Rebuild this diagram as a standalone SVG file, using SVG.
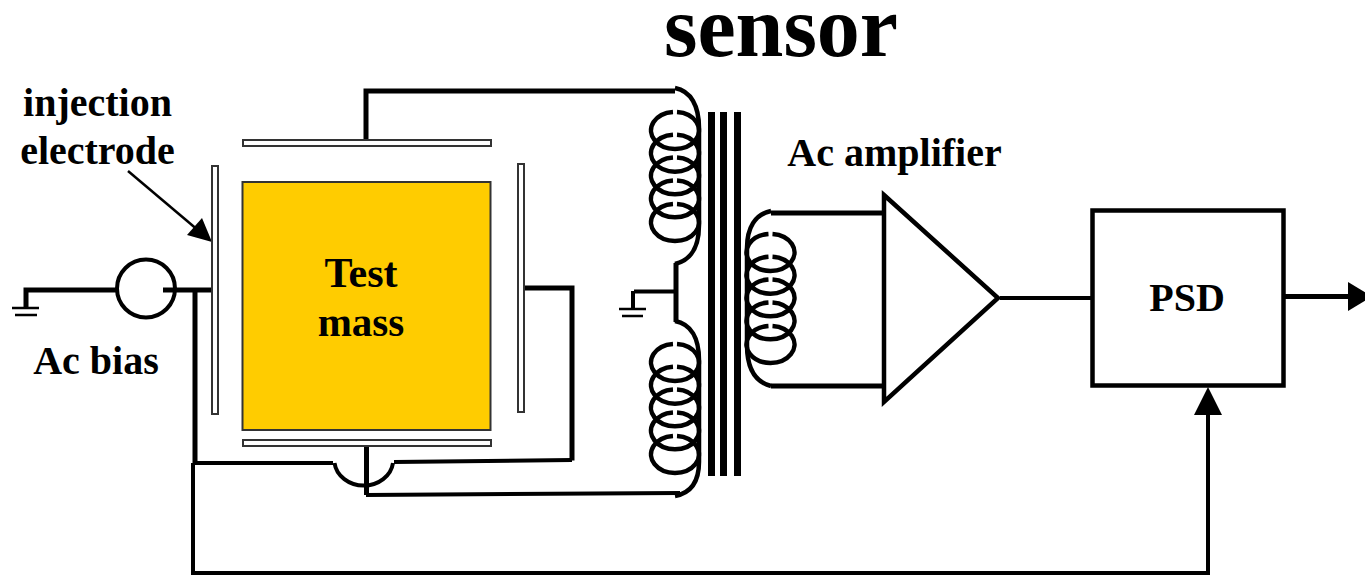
<svg xmlns="http://www.w3.org/2000/svg" width="1365" height="576" viewBox="0 0 1365 576">
<style>
.w{fill:none;stroke:#000;stroke-width:4}
.h{fill:none;stroke:#000;stroke-width:5}
.g{fill:none;stroke:#000;stroke-width:2.5}
.c{fill:none;stroke:#000;stroke-width:4.500}
.p{fill:#fff;stroke:#333;stroke-width:2}
.t{font-family:"Liberation Serif","Times New Roman",serif;font-weight:bold;fill:#000;font-size:40px;text-anchor:middle}
.b{fill:#000}
</style>
<defs>
<path id="coil" class="c" d="M1,-18.500A24,18.500 0 1,1 -3,-18.500"/>
<g id="turns">
<use href="#coil" y="0"/><use href="#coil" y="22.700"/><use href="#coil" y="45.400"/><use href="#coil" y="68.400"/><use href="#coil" y="92"/>
</g>
</defs>
<rect width="1365" height="576" fill="#fff"/>
<g id="connectors">
<path class="h" d="M26,307V290H118"/>
<path class="h" d="M163,290H212"/>
<path class="h" d="M195,290V463"/>
<path class="w" d="M193,463H333"/>
<path class="w" d="M334.500,463A29.500,26 0 0,0 393,463"/>
<path class="w" d="M394,462L572,460"/>
<path class="h" d="M572,460.500V288H524"/>
<path class="h" d="M366,140V91H675"/>
<path class="h" d="M366.500,446V495"/>
<path class="w" d="M366,495L680,493"/>
<path class="w" d="M634,291.500H676"/>
<path class="h" d="M676,263V322"/>
<path class="h" d="M771,213H884"/>
<path class="h" d="M771,386H884"/>
<path class="w" d="M1000,298H1092"/>
<path class="h" d="M1284,296.500H1350"/>
<polygon class="b" points="1348,282 1372,296.500 1348,311"/>
<path class="w" d="M193,463V573H1208V414"/>
<polygon class="b" points="1194,415 1208,387 1222,415"/>
<path d="M128,171L199,231" fill="none" stroke="#000" stroke-width="2.500"/>
<polygon class="b" points="212,242 187,235 202,218"/>
</g>
<g id="ground-left">
<path class="g" d="M12,308H39M15,315H37"/>
</g>
<g id="ground-center">
<path class="w" d="M633,291V308"/>
<path class="g" d="M619,309H646M622,316H643"/>
</g>
<g id="ac-source"><circle class="w" cx="146" cy="288.500" r="29"/></g>
<g id="top-electrode"><rect class="p" x="243" y="140" width="248" height="6"/></g>
<g id="bottom-electrode"><rect class="p" x="243" y="440" width="248" height="6"/></g>
<g id="injection-electrode"><rect class="p" x="212" y="166" width="6" height="248"/></g>
<g id="right-electrode"><rect class="p" x="518" y="164" width="6" height="248"/></g>
<g id="test-mass">
<rect x="242.500" y="182" width="248" height="248" fill="#FFCC00" stroke="#333" stroke-width="2"/>
<text class="t" x="361" y="287" style="font-size:42px">Test</text>
<text class="t" x="361" y="336" style="font-size:41px">mass</text>
</g>
<g id="primary-upper">
<use href="#turns" x="676" y="130.500"/>
<path class="c" d="M675,88C691,91 699,106 699,128V225C699,248 691,260 675,264"/>
</g>
<g id="primary-lower">
<use href="#turns" x="676" y="362.500"/>
<path class="c" d="M675,321C691,324 699,338 699,360V462C699,482 691,493 675,496"/>
</g>
<g id="core">
<rect class="b" x="708" y="112" width="7" height="364"/>
<rect class="b" x="720" y="112" width="7" height="364"/>
<rect class="b" x="734" y="112" width="7" height="364"/>
</g>
<g id="secondary">
<use href="#turns" x="771.500" y="252.500"/>
<path class="c" d="M771,211C755,214 747,228 747,248V345C747,368 755,382 771,386"/>
</g>
<g id="amplifier"><polygon points="884,195 998,298 884,402" fill="none" stroke="#000" stroke-width="4.500"/></g>
<g id="psd">
<rect x="1092.500" y="210.500" width="191" height="175" fill="none" stroke="#000" stroke-width="4.500"/>
<text class="t" x="1187" y="311">PSD</text>
</g>
<g id="labels">
<text class="t" x="781" y="56" style="font-size:86px">sensor</text>
<text class="t" x="97.500" y="116">injection</text>
<text class="t" x="97.500" y="164">electrode</text>
<text class="t" x="894.500" y="166">Ac amplifier</text>
<text class="t" x="96" y="374">Ac bias</text>
</g>
</svg>
